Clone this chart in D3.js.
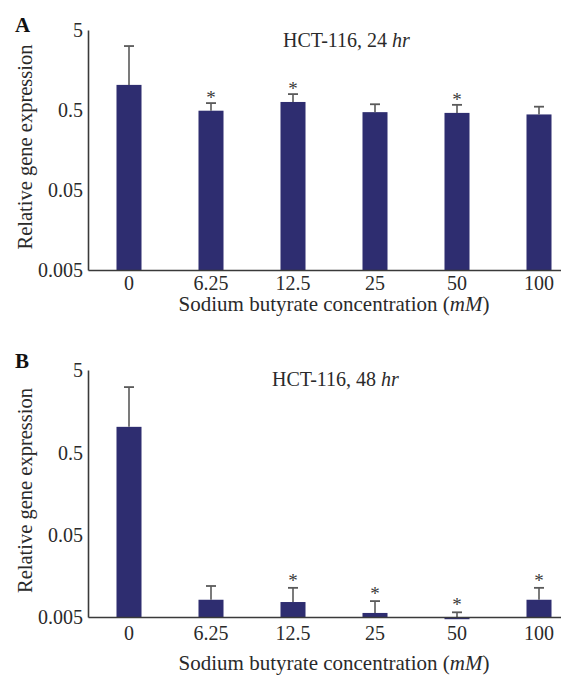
<!DOCTYPE html>
<html><head><meta charset="utf-8">
<script src="https://cdn.jsdelivr.net/npm/d3@7"></script>
<style>
html,body{margin:0;padding:0;background:#fff;}
svg{display:block;}
text{font-family:"Liberation Serif","Times New Roman",serif;fill:#2a2a2a;}
</style></head>
<body>
<svg id="chart" width="561" height="679"></svg>
<script>
// ---- data ----
const categories = ["0", "6.25", "12.5", "25", "50", "100"];
const yTickValues = [0.005, 0.05, 0.5, 5];
const yTickLabels = ["0.005", "0.05", "0.5", "5"];

const valuesA = [1.03, 0.49, 0.63, 0.47, 0.46, 0.44];
const errTopA = [3.15, 0.61, 0.79, 0.59, 0.58, 0.55];
const starsA  = [false, true, true, false, true, false];

const valuesB = [1.02, 0.0081, 0.0076, 0.0056, 0.0047, 0.0081];
const errTopB = [3.1, 0.0119, 0.0113, 0.0078, 0.0057, 0.0113];
const starsB  = [false, false, true, true, true, true];

const panels = [
  {letter: "A", title: "HCT-116, 24 ", titleItal: "hr", values: valuesA, errTop: errTopA, stars: starsA,
   top: 30, base: 270, titleX: 283, titleY: 47, letterY: 32, tickY: 290, xTitleY: 311, starOff: 1},
  {letter: "B", title: "HCT-116, 48 ", titleItal: "hr", values: valuesB, errTop: errTopB, stars: starsB,
   top: 370, base: 617, titleX: 272, titleY: 386, letterY: 368, tickY: 640, xTitleY: 670, starOff: -1}
];

const svg = d3.select("#chart");
const axisX = 88;
const barColor = "#2e2d70";
const axisColor = "#3a3a3a";
const errColor = "#5a5a5a";

const x = d3.scaleBand().domain(categories).range([axisX, axisX + 82 * 6])
  .paddingInner(0.695).paddingOuter(0.3475);
const cx = i => x(categories[i]) + x.bandwidth() / 2;

panels.forEach(p => {
  const g = svg.append("g");
  const y = d3.scaleLog().domain([0.005, 5]).range([p.base, p.top]);
  const rows = categories.map((c, i) => ({i, v: p.values[i], e: p.errTop[i], s: p.stars[i]}));

  // bars
  g.selectAll("rect.bar").data(rows).enter().append("rect")
    .attr("class", "bar")
    .attr("x", d => x(categories[d.i]))
    .attr("width", x.bandwidth())
    .attr("y", d => Math.min(y(d.v), p.base))
    .attr("height", d => Math.abs(p.base - y(d.v)))
    .attr("fill", barColor);

  // error bars
  const eg = g.selectAll("g.err").data(rows).enter().append("g").attr("class", "err");
  eg.append("line")
    .attr("x1", d => cx(d.i)).attr("x2", d => cx(d.i))
    .attr("y1", d => Math.min(y(d.v), p.base))
    .attr("y2", d => y(d.e))
    .attr("stroke", errColor).attr("stroke-width", 1.6);
  eg.append("line")
    .attr("x1", d => cx(d.i) - 5).attr("x2", d => cx(d.i) + 5)
    .attr("y1", d => y(d.e)).attr("y2", d => y(d.e))
    .attr("stroke", errColor).attr("stroke-width", 1.8);

  // stars
  g.selectAll("text.star").data(rows.filter(d => d.s)).enter()
    .append("text").attr("class", "star")
    .attr("x", d => cx(d.i))
    .attr("y", d => y(d.e) + p.starOff)
    .attr("text-anchor", "middle")
    .style("font-size", "19px").style("fill", "#3a3a3a")
    .text("*");

  // y axis
  const yAxis = d3.axisLeft(y).tickValues(yTickValues)
    .tickFormat((d, i) => yTickLabels[i]).tickSize(0).tickPadding(5);
  const ya = g.append("g").attr("transform", `translate(${axisX},0)`).call(yAxis);
  ya.select(".domain").attr("stroke", axisColor).attr("stroke-width", 1.6);
  ya.selectAll("text").style("font-size", "20px")
    .style("font-family", "Liberation Serif").attr("fill", "#2a2a2a").attr("dy", "0.34em");

  // x axis
  const xAxis = d3.axisBottom(x).tickSize(0).tickPadding(0);
  const xa = g.append("g").attr("transform", `translate(0,${p.base})`).call(xAxis);
  xa.select(".domain").attr("stroke", axisColor).attr("stroke-width", 1.6);
  xa.selectAll("text").style("font-size", "20px")
    .style("font-family", "Liberation Serif").attr("fill", "#2a2a2a")
    .attr("y", p.tickY - p.base).attr("dy", 0);

  // panel letter
  g.append("text").attr("x", 15).attr("y", p.letterY)
    .style("font-size", "21px").style("font-weight", "bold").style("fill", "#111")
    .text(p.letter);

  // title
  const t = g.append("text").attr("x", p.titleX).attr("y", p.titleY).style("font-size", "20px");
  t.append("tspan").text(p.title);
  t.append("tspan").style("font-style", "italic").text(p.titleItal);

  // y-axis label
  g.append("text")
    .attr("transform", `translate(32,${(p.top + p.base) / 2 - 3}) rotate(-90)`)
    .attr("text-anchor", "middle").style("font-size", "20.5px")
    .text("Relative gene expression");

  // x-axis label
  const xl = g.append("text").attr("x", 334).attr("y", p.xTitleY)
    .attr("text-anchor", "middle").style("font-size", "21px");
  xl.append("tspan").text("Sodium butyrate concentration (");
  xl.append("tspan").style("font-style", "italic").text("mM");
  xl.append("tspan").text(")");
});
</script>
</body></html>
